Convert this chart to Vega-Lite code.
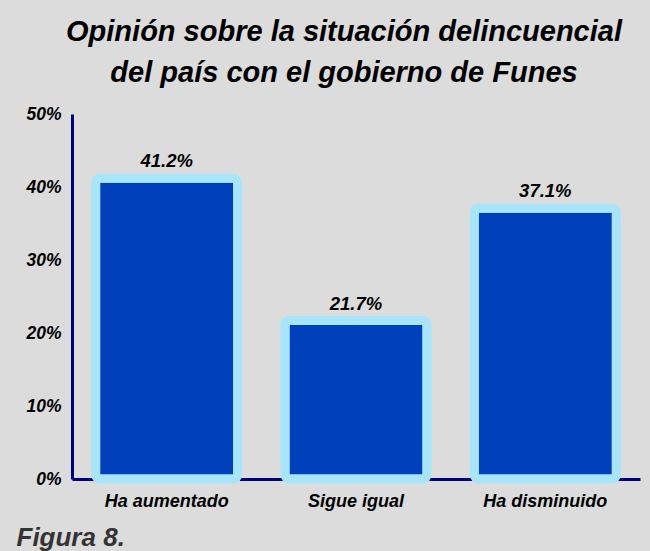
{
  "$schema": "https://vega.github.io/schema/vega-lite/v6.json",
  "autosize": {"type": "none"},
  "padding": {"left": 72, "top": 114, "right": 10, "bottom": 72},
  "width": 568,
  "height": 365,
  "background": "#dcdcdc",
  "title": {
    "text": ["Opinión sobre la situación delincuencial", "del país con el gobierno de Funes"],
    "font": "Liberation Sans",
    "fontSize": 29,
    "fontWeight": "bold",
    "fontStyle": "italic",
    "color": "#000000",
    "lineHeight": 41,
    "anchor": "middle",
    "dx": -12,
    "offset": 17
  },
  "data": {
    "values": [
      {"cat": "Ha aumentado", "pct": 0.412},
      {"cat": "Sigue igual", "pct": 0.217},
      {"cat": "Ha disminuido", "pct": 0.371}
    ]
  },
  "encoding": {
    "x": {
      "field": "cat", "type": "nominal", "sort": null,
      "scale": {"paddingInner": 0.25, "paddingOuter": 0.125},
      "axis": {
        "title": "Figura 8.",
        "titleAnchor": "start",
        "titleX": -56,
        "titleY": 45,
        "titleFont": "Liberation Sans",
        "titleFontSize": 26,
        "titleFontWeight": "bold",
        "titleFontStyle": "italic",
        "titleColor": "#333333",
        "labelAngle": 0,
        "labelFont": "Liberation Sans",
        "labelFontSize": 18,
        "labelFontWeight": "bold",
        "labelFontStyle": "italic",
        "labelColor": "#000000",
        "labelPadding": 13,
        "ticks": false,
        "domainColor": "#000080",
        "domainWidth": 3
      }
    },
    "y": {
      "field": "pct", "type": "quantitative",
      "scale": {"domain": [0, 0.5]},
      "axis": {
        "title": null,
        "values": [0, 0.1, 0.2, 0.3, 0.4, 0.5],
        "format": ".0%",
        "labelFont": "Liberation Sans",
        "labelFontSize": 17.5,
        "labelFontWeight": "bold",
        "labelFontStyle": "italic",
        "labelColor": "#000000",
        "labelPadding": 11,
        "ticks": false,
        "grid": false,
        "domainColor": "#000080",
        "domainWidth": 3
      }
    }
  },
  "layer": [
    {
      "mark": {"type": "bar", "color": "#0040bb", "stroke": "#a8e4fa", "strokeWidth": 9, "cornerRadius": 4}
    },
    {
      "mark": {"type": "text", "dy": -17, "font": "Liberation Sans", "fontSize": 18.5, "fontWeight": "bold", "fontStyle": "italic", "color": "#000000"},
      "encoding": {"text": {"field": "pct", "type": "quantitative", "format": ".1%"}}
    }
  ],
  "config": {"view": {"stroke": null}}
}
